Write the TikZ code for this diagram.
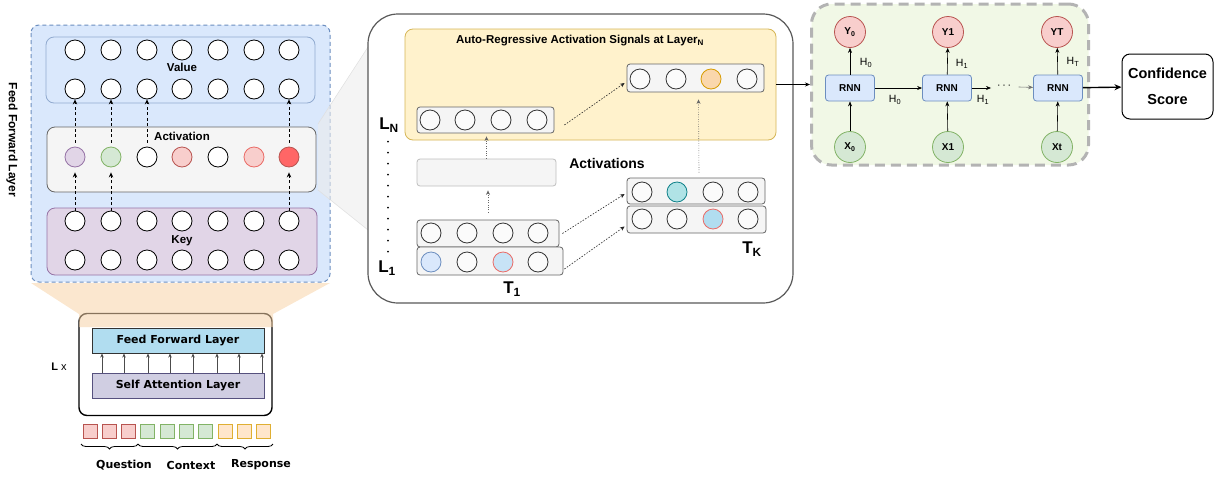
\documentclass[tikz,border=0pt]{standalone}
\usepackage{fontspec}
\setmainfont{Liberation Sans}
\newfontfamily\dvfont{DejaVu Sans}
\usetikzlibrary{arrows.meta,decorations.pathreplacing,calc}
\definecolor{bluefill}{HTML}{DAE8FC}
\definecolor{blueline}{HTML}{6C8EBF}
\definecolor{grayfill}{HTML}{F5F5F5}
\definecolor{grayline}{HTML}{666666}
\definecolor{purfill}{HTML}{E1D5E7}
\definecolor{purline}{HTML}{9673A6}
\definecolor{grnfill}{HTML}{D5E8D4}
\definecolor{grnline}{HTML}{82B366}
\definecolor{redfill}{HTML}{F8CECC}
\definecolor{redline}{HTML}{B85450}
\definecolor{lightredline}{HTML}{EA6B66}
\definecolor{strongred}{HTML}{FF6666}
\definecolor{orfill}{HTML}{FFE6CC}
\definecolor{orline}{HTML}{D79B00}
\definecolor{yelfill}{HTML}{FFF2CC}
\definecolor{yelline}{HTML}{D6B656}
\definecolor{ffblue}{HTML}{B1DDF0}
\definecolor{safill}{HTML}{D0CEE2}
\definecolor{saline}{HTML}{56517E}
\definecolor{tealfill}{HTML}{B0E3E6}
\definecolor{tealline}{HTML}{0E8088}
\definecolor{peach}{HTML}{FAD7AC}
\definecolor{greenpanel}{HTML}{F1F8E6}
\definecolor{panelline}{HTML}{B3B3B3}
\definecolor{trapc}{HTML}{F7D3A8}
\definecolor{lightblue}{HTML}{C7E3F6}
\tikzset{
  neuron/.style={circle,draw=black,fill=white,line width=0.8pt,minimum size=20pt,inner sep=0pt},
  mneuron/.style={neuron,draw=black!80,fill=white!60!grayfill},
  lbl/.style={font=\fontsize{11.5}{13}\selectfont\bfseries},
  biglbl/.style={font=\fontsize{17}{19}\selectfont\bfseries},
  dasharrow/.style={-{Stealth[length=5pt,width=4.5pt]},dash pattern=on 3pt off 2.5pt,line width=1pt},
  dotarrow/.style={-{Stealth[length=4.5pt,width=4pt]},dash pattern=on 1.5pt off 1.5pt,line width=0.6pt,black!85},
  finedot/.style={-{Stealth[length=4.5pt,width=4pt]},dash pattern=on 0.8pt off 1.6pt,line width=0.6pt,black!60},
  rowbox/.style={draw=grayline,fill=grayfill,rounded corners=3pt,line width=0.8pt,inner sep=0pt},
  rnn/.style={draw=blueline,fill=bluefill,rounded corners=3pt,minimum width=49pt,minimum height=26pt,font=\fontsize{10}{12}\selectfont\bfseries,line width=0.8pt},
  ycirc/.style={circle,draw=redline,fill=redfill,minimum size=31pt,inner sep=0pt,font=\fontsize{10}{12}\selectfont\bfseries,line width=0.8pt},
  xcirc/.style={circle,draw=grnline,fill=grnfill,minimum size=31pt,inner sep=0pt,font=\fontsize{10}{12}\selectfont\bfseries,line width=0.8pt},
  arr/.style={-{Stealth[length=5pt,width=4pt]},line width=0.6pt},
  hlbl/.style={font=\fontsize{10.5}{12}\selectfont},
  tok/.style={draw,line width=1pt,minimum size=14pt,inner sep=0pt},
  tokr/.style={tok,draw=redline,fill=redfill},
  tokg/.style={tok,draw=grnline,fill=grnfill},
  toko/.style={tok,draw=orline!80,fill=orfill},
  brc/.style={decorate,decoration={brace,mirror,amplitude=5pt},line width=0.8pt},
  bllbl/.style={font=\dvfont\fontsize{11}{13}\selectfont\bfseries},
}
\begin{document}
\begin{tikzpicture}[x=1pt,y=-1pt]
\useasboundingbox (0,0) rectangle (1220,477);

% ---------- left panel ----------
\draw[draw=blueline,fill=bluefill,dash pattern=on 4pt off 3pt,line width=1pt,rounded corners=8pt] (31,25) rectangle (330,282);
\fill[gray!15,fill opacity=0.6] (318,124) -- (368,47) -- (368,230) -- (318,190) -- cycle;
\draw[gray!25,line width=0.5pt] (318,124) -- (368,47) (318,190) -- (368,230);
\draw[draw=blueline!75,fill=bluefill,rounded corners=8pt,line width=0.8pt] (46,37) rectangle (315,103);
\node[draw=grayline,fill=grayfill,rounded corners=8pt,minimum width=269pt,minimum height=65pt,line width=0.8pt] (actbox) at (181.5,159.5) {};
\draw[draw=purline,fill=purfill,rounded corners=8pt,line width=0.8pt] (47,208) rectangle (317,275);

\foreach \x [count=\i] in {75,111,147,182,218,254,289} {
  \node[neuron] (v1-\i) at (\x,50) {};
  \node[neuron] (v2-\i) at (\x,89) {};
  \node[neuron] (k1-\i) at (\x,221) {};
  \node[neuron] (k2-\i) at (\x,260) {};
}
\node[neuron,fill=purfill,draw=purline] (a-1) at (75,157) {};
\node[neuron,fill=grnfill,draw=grnline] (a-2) at (111,157) {};
\node[neuron] (a-3) at (147,157) {};
\node[neuron,fill=redfill,draw=redline] (a-4) at (182,157) {};
\node[neuron] (a-5) at (218,157) {};
\node[neuron,fill=redfill,draw=lightredline] (a-6) at (254,157) {};
\node[neuron,fill=strongred,draw=redline] (a-7) at (289,157) {};

\node[lbl] (valuelbl) at (182,67) {Value};
\node[lbl] (actlbl) at (182,136) {Activation};
\node[lbl] (keylbl) at (182,241) {Key};
\node[rotate=-90,font=\fontsize{12}{14}\selectfont\bfseries] (fflbl) at (12,140) {Feed Forward Layer};

\foreach \i in {1,2,7} \draw[dasharrow,shorten >=5pt] (k1-\i) -- (a-\i);
\foreach \i in {1,2,3,7} \draw[dasharrow,shorten <=4pt] (a-\i) -- (v2-\i);

% ---------- bottom-left block ----------
\node[draw=black,line width=1.4pt,rounded corners=8pt,fill=white,minimum width=193pt,minimum height=102pt] (lxbox) at (175.5,364.5) {};
\fill[trapc,fill opacity=0.55] (31,283) -- (330,283) -- (273,314) -- (273,327) -- (79,327) -- (79,314) -- cycle;
\node[draw=black!80,fill=ffblue,minimum width=172pt,minimum height=25pt,line width=1pt,bllbl] (ff) at (178,340.5) {Feed Forward Layer};
\node[draw=saline,fill=safill,minimum width=172pt,minimum height=25pt,line width=1pt,bllbl] (sa) at (178,385.5) {Self Attention Layer};
\foreach \d in {-76,-54,-30,-8,15,39,61,84}
  \draw[-{Stealth[length=4pt,width=3.5pt]},line width=0.8pt,black!70] ([xshift=\d pt]sa.north) -- ([xshift=\d pt]ff.south);
\node[font=\fontsize{11}{13}\selectfont] (lx) at (59,367) {\textbf{L} x};

\foreach \x/\s [count=\i] in {90/tokr,109.5/tokr,128.5/tokr,147.5/tokg,167/tokg,186/tokg,205.5/tokg,225/toko,244/toko,263.5/toko}
  \node[\s] (sq\i) at (\x,431.5) {};
\draw[brc] (81,444) -- (138,444);
\draw[brc] (138,444) -- (217,444);
\draw[brc] (217,444) -- (273,444);
\node[bllbl] (qlbl) at (124,465) {Question};
\node[bllbl] (clbl) at (191,465) {Context};
\node[bllbl] (rlbl) at (261,465) {Response};

% ---------- middle panel ----------
\node[draw=black!65,line width=1.2pt,rounded corners=30pt,fill=white,minimum width=425pt,minimum height=289pt] (midbox) at (580.5,158.5) {};
\node[draw=yelline,fill=yelfill,rounded corners=8pt,minimum width=371pt,minimum height=111pt,line width=0.8pt] (arpanel) at (590.5,84.5) {};
\node[font=\fontsize{11.5}{13}\selectfont\bfseries] (artitle) at (580,41) {Auto-Regressive Activation Signals at Layer\textsubscript{N}};

\node[rowbox,minimum width=137pt,minimum height=26pt] (rowN) at (485.5,120) {};
\node[rowbox,minimum width=137pt,minimum height=28pt] (rowNK) at (695.5,78) {};
\node[rounded corners=3pt,draw=black!25,fill=grayfill,minimum width=139pt,minimum height=27pt,line width=0.8pt] (acts) at (486.5,172.5) {};
\node[rowbox,minimum width=142pt,minimum height=27pt] (t1a) at (488,233.5) {};
\node[rowbox,minimum width=146pt,minimum height=28pt] (t1b) at (490,261) {};
\node[rowbox,minimum width=138pt,minimum height=26pt] (tka) at (696,191) {};
\node[rowbox,minimum width=139pt,minimum height=27pt] (tkb) at (696.5,219.5) {};

\foreach \x [count=\i] in {430,465,501,537} \node[mneuron] (rn-\i) at (\x,120) {};
\node[mneuron] (rk-1) at (640,79) {};
\node[mneuron] (rk-2) at (676,79) {};
\node[mneuron,fill=peach,draw=orline] (rk-3) at (711,79) {};
\node[mneuron] (rk-4) at (747,79) {};
\foreach \x [count=\i] in {431,467,503,538} \node[mneuron] (ta-\i) at (\x,233) {};
\node[mneuron,fill=bluefill,draw=blueline] (tb-1) at (431,262) {};
\node[mneuron] (tb-2) at (467,262) {};
\node[mneuron,fill=lightblue,draw=lightredline] (tb-3) at (503,262) {};
\node[mneuron] (tb-4) at (538,262) {};
\node[mneuron] (ka-1) at (642,192) {};
\node[mneuron,fill=tealfill,draw=tealline] (ka-2) at (677,192) {};
\node[mneuron] (ka-3) at (713,192) {};
\node[mneuron] (ka-4) at (748,192) {};
\node[mneuron] (kb-1) at (642,219) {};
\node[mneuron] (kb-2) at (677,219) {};
\node[mneuron,fill=ffblue,draw=lightredline] (kb-3) at (713,219) {};
\node[mneuron] (kb-4) at (748,219) {};

\node[font=\fontsize{14}{16}\selectfont\bfseries] (actslbl) at (607,163) {Activations};
\node[biglbl] (ln) at (389,125) {L\textsubscript{N}};
\node[biglbl] (l1) at (387,268) {L\textsubscript{1}};
\node[biglbl] (t1lbl) at (512,289) {T\textsubscript{1}};
\node[biglbl] (tklbl) at (752,249) {T\textsubscript{K}};
\draw[line width=2pt,line cap=round,dash pattern=on 0pt off 11pt] ([yshift=-6pt,xshift=-1pt]ln.south) -- ([yshift=2pt,xshift=1pt]l1.north);

\draw[dotarrow] ($(rowN.east)+(10,5)$) -- ($(rowNK.west)+(-2,5)$);
\draw[finedot] ($(tka.north)+(3,-5)$) -- ($(rowNK.south)+(3,7)$);
\draw[finedot,shorten >=3pt] (acts.north) -- (acts.north |- rowN.south);
\draw[finedot,shorten <=7pt,shorten >=4pt] (t1a.north) -- (t1a.north |- acts.south);
\draw[dotarrow] ($(t1a.east)+(3,0)$) -- ($(tka.west)+(-2,3)$);
\draw[dotarrow] ($(t1b.east)+(1,8)$) -- ($(tkb.west)+(-2,7)$);

% ---------- right panel ----------
\node[draw=panelline,fill=greenpanel,rounded corners=20pt,line width=3pt,dash pattern=on 10pt off 6pt,minimum width=277pt,minimum height=161pt] (rnnpanel) at (950,84.5) {};
\draw[arr] (arpanel.east) -- (rnnpanel.west);

\node[rnn] (r1) at (850,88) {RNN};
\node[rnn] (r2) at (947,88) {RNN};
\node[rnn] (r3) at (1058,88) {RNN};
\node[ycirc] (y1) at (850,32) {Y\textsubscript{0}};
\node[ycirc] (y2) at (948,32) {Y1};
\node[ycirc] (y3) at (1057,32) {YT};
\node[xcirc] (x1) at (850,147) {X\textsubscript{0}};
\node[xcirc] (x2) at (948,147) {X1};
\node[xcirc] (x3) at (1057,147) {Xt};
\foreach \i in {1,2,3} {
  \draw[arr] (x\i) -- (r\i);
  \draw[arr] (r\i) -- (y\i);
}
\draw[arr] (r1) -- (r2);
\coordinate (dd) at (991,88);
\draw[arr] (r2) -- (dd);
\node[hlbl] (dots) at (1004,87) {·\,·\,·};
\draw[arr,black!55] ([xshift=4pt]dots.east) -- (r3);
\node[hlbl] (h0b) at (895,100) {H\textsubscript{0}};
\node[hlbl] (h1b) at (983,100) {H\textsubscript{1}};
\node[hlbl] (h0a) at (866,63) {H\textsubscript{0}};
\node[hlbl] (h1a) at (962,64) {H\textsubscript{1}};
\node[hlbl] (hta) at (1073,62) {H\textsubscript{T}};

\node[draw=black,rounded corners=8pt,line width=1pt,fill=white,minimum width=91pt,minimum height=65pt,align=center,font=\fontsize{14.5}{26}\selectfont\bfseries] (conf) at (1167.5,86.5) {Confidence\\Score};
\draw[-{Stealth[length=7pt,width=6pt]},line width=1.4pt] (r3) -- (conf);
\end{tikzpicture}
\end{document}
